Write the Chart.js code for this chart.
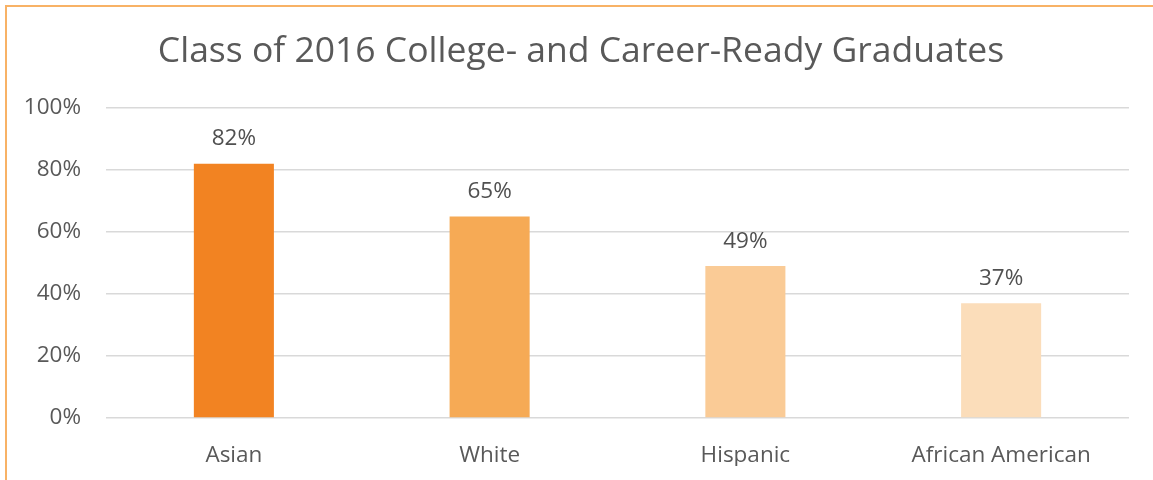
<!DOCTYPE html>
<html>
<head>
<meta charset="utf-8">
<script src="https://cdn.jsdelivr.net/npm/chart.js@4/dist/chart.umd.min.js"></script>
<style>
  html, body { margin: 0; padding: 0; background: #fff; }
  #wrap { position: relative; width: 1153px; height: 480px; overflow: hidden; }
  #c { position: absolute; left: 0; top: 0; }
  #frame { position: absolute; left: 5px; top: 5px; width: 1160px; height: 480px;
           border-left: 2px solid #F8B266; border-top: 2px solid #F8B266; pointer-events: none; }
</style>
</head>
<body>
<div id="wrap">
  <canvas id="c" width="1153" height="480"></canvas>
  <div id="frame"></div>
</div>
<script>
const titleText = "Class of 2016 College- and Career-Ready Graduates";
const categories = ["Asian", "White", "Hispanic", "African American"];
const values = [82, 65, 49, 37];
const barColors = ["#F28322", "#F6AA55", "#FACB96", "#FBDDBA"];
const yTicks = [0, 20, 40, 60, 80, 100];

const FONT = "'Segoe UI', 'Open Sans', 'Noto Sans', sans-serif";

const valueLabels = {
  id: 'valueLabels',
  afterDatasetsDraw(chart) {
    const ctx = chart.ctx;
    const meta = chart.getDatasetMeta(0);
    ctx.save();
    ctx.font = "22.5px " + FONT;
    ctx.fillStyle = "#505050";
    ctx.textAlign = "center";
    ctx.textBaseline = "middle";
    meta.data.forEach((bar, i) => {
      ctx.fillText(values[i] + "%", bar.x, bar.y - 25);
    });
    ctx.restore();
  }
};

new Chart(document.getElementById('c'), {
  type: 'bar',
  data: {
    labels: categories,
    datasets: [{
      data: values,
      backgroundColor: barColors,
      borderWidth: 0,
      categoryPercentage: 1.0,
      barPercentage: 0.313
    }]
  },
  options: {
    responsive: false,
    animation: false,
    layout: { padding: { left: 10, right: 1, top: 31, bottom: 14 } },
    plugins: {
      legend: { display: false },
      tooltip: { enabled: false },
      title: {
        display: true,
        text: titleText,
        color: "#595959",
        font: { family: FONT, size: 35.5, weight: 'normal' },
        padding: { top: 0, bottom: 34.4 }
      }
    },
    scales: {
      x: {
        afterFit(scale) { scale.height = 48; },
        grid: { display: false, drawTicks: false },
        border: { display: false },
        ticks: { color: "#595959", font: { family: FONT, size: 22.5 }, padding: 24 }
      },
      y: {
        min: 0, max: 100,
        afterFit(scale) { scale.width = 96; },
        afterBuildTicks(scale) { scale.ticks = yTicks.map(v => ({ value: v })); },
        grid: { color: "#D9D9D9", lineWidth: 1.5, drawTicks: false },
        border: { display: false },
        ticks: {
          color: "#595959",
          font: { family: FONT, size: 22.5 },
          padding: 25,
          callback: v => v + "%"
        }
      },
      yRight: {
        position: 'right',
        display: true,
        afterFit(scale) { scale.width = 23; },
        grid: { display: false, drawTicks: false },
        border: { display: false },
        ticks: { display: false }
      }
    }
  },
  plugins: [valueLabels]
});
</script>
</body>
</html>
